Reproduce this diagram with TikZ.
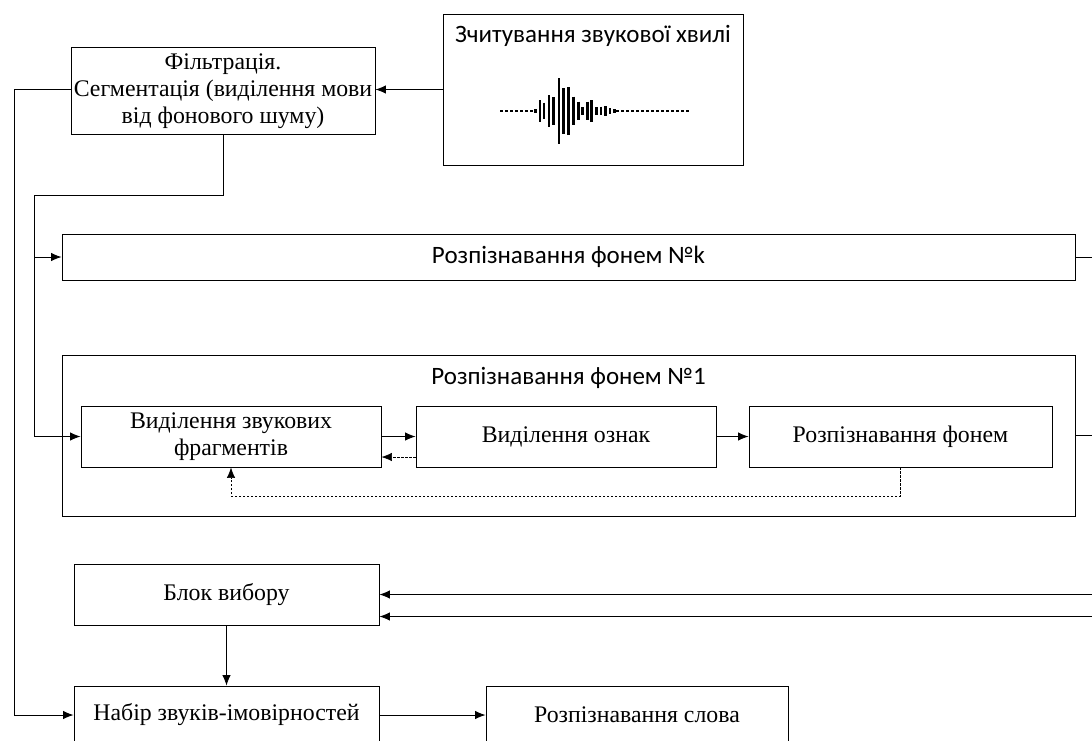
\documentclass[tikz,border=0pt]{standalone}
\usepackage{fontspec}
\setmainfont{Liberation Serif}
\newfontfamily\carlfont{Carlito}
\usetikzlibrary{arrows.meta}
\begin{document}
\begin{tikzpicture}[x=1pt,y=-1pt,
  box/.style={draw=black, line width=0.9pt, rectangle, inner sep=0pt, align=center,
    font=\fontsize{23.8}{27}\selectfont},
  sbox/.style={box, font=\carlfont\fontsize{25}{28}\selectfont},
  stext/.style={inner sep=0pt, font=\carlfont\fontsize{25}{28}\selectfont},
  arr/.style={line width=0.9pt, -{Latex[length=10.5pt,width=8.5pt]}},
  conn/.style={line width=0.9pt},
  dsh/.style={line width=0.7pt, dash pattern=on 2.5pt off 1.5pt, -{Latex[length=10.5pt,width=8.5pt]}},
  wbar/.style={line width=2.6pt},
  wdot/.style={line width=2.6pt, dash pattern=on 2.5pt off 2.5pt},
]
\useasboundingbox (0,0) rectangle (1092,740);
\clip (0,0) rectangle (1092,740);

% boxes
\node[box, minimum width=304pt, minimum height=87pt] (filt) at (223,91)
  {Фільтрація.\\Сегментація (виділення мови\\від фонового шуму)};
\node[box, minimum width=300pt, minimum height=151pt] (zch) at (593,89.5) {};
\node[stext] (zchT) at (593,36) {Зчитування звукової хвилі};

\node[sbox, minimum width=1013pt, minimum height=46pt] (nk) at (568.5,257) {Розпізнавання фонем №k};

\node[box, minimum width=1013pt, minimum height=161pt] (n1) at (568.5,435.5) {};
\node[stext] (n1T) at (568.5,378) {Розпізнавання фонем №1};

\node[box, minimum width=300pt, minimum height=61pt] (vyd) at (231,436.5)
  {Виділення звукових\\фрагментів};
\node[box, minimum width=300pt, minimum height=61pt] (ozn) at (566,436.5) {Виділення ознак};
\node[box, minimum width=303pt, minimum height=61pt] (rf) at (900.5,436.5) {Розпізнавання фонем};

\node[box, minimum width=305pt, minimum height=61pt] (blok) at (226.5,594.5) {Блок вибору};
\node[box, minimum width=305pt, minimum height=58pt] (nabir) at (226.5,715) {Набір звуків-імовірностей};
\node[box, minimum width=302pt, minimum height=58pt] (slovo) at (637,715) {Розпізнавання слова};

% waveform
\draw[wdot] (500,111) -- (534,111);
\draw[wdot] (616,111) -- (689,111);
\foreach \x/\h in {535.7/2, 540/11, 544/8.3, 549/15.7, 553.3/14, 559/32.7, 563.3/22.7,
  568.3/24, 573.3/14.3, 578.3/9.3, 582.3/4, 587.3/9.3, 591.7/10.7, 596.7/4, 601/4.3,
  605.7/5, 610/2.7, 614.3/2}
  \draw[wbar] (\x,111-\h) -- (\x,111+\h);

% coordinates
\coordinate (l1) at (14,89.5);
\coordinate (c1) at (34,195);
\coordinate (d1) at (900.5,496);
\coordinate (ek) at (1092,257);
\coordinate (e1) at (1092,435.5);
\coordinate (eb1) at (1092,594.5);
\coordinate (eb2) at (1092,616.5);

% connectors
\draw[arr] (zch.west) -- (filt.east |- zch.west);
\draw[arr] (filt.west |- l1) -- (l1) |- (nabir.west);
\draw[arr] (filt.south) |- (c1) |- (vyd.west);
\draw[arr] (c1) |- (nk.west);
\draw[arr] (vyd.east) -- (ozn.west);
\draw[dsh] ([yshift=-20.5pt]ozn.west) -- ([yshift=-20.5pt]vyd.east);
\draw[arr] (ozn.east) -- (rf.west);
\draw[dsh] (rf.south) -- (d1) -| (vyd.south);
\draw[conn] (nk.east) -- (ek);
\draw[conn] (n1.east) -- (e1);
\draw[arr] (eb1) -- (blok.east);
\draw[arr] (eb2) -- ([yshift=-22pt]blok.east);
\draw[arr] (blok.south) -- (nabir.north);
\draw[arr] (nabir.east) -- (slovo.west);
\end{tikzpicture}
\end{document}
